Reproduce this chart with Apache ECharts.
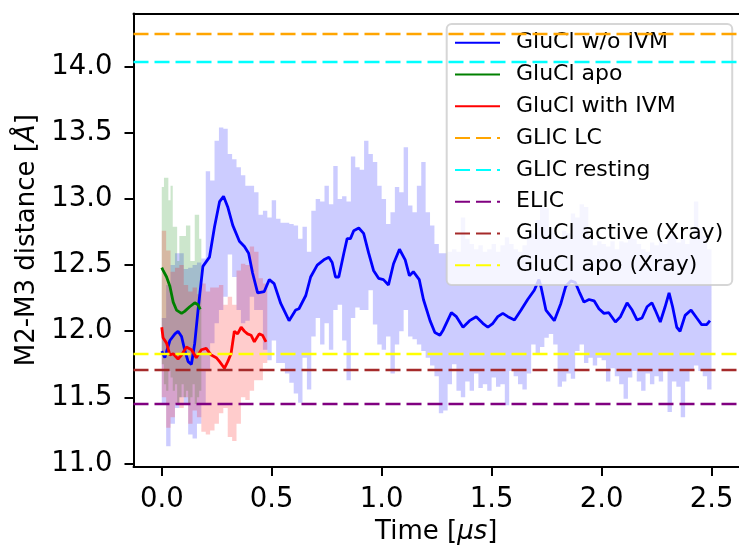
<!DOCTYPE html>
<html>
<head>
<meta charset="utf-8">
<script src="https://cdn.jsdelivr.net/npm/echarts@6.0.0/dist/echarts.min.js"></script>
<style>
  html, body { margin: 0; padding: 0; background: #ffffff; }
  #chart { width: 739px; height: 550px; }
</style>
</head>
<body>
<div id="chart"></div>
<script>
// ---- axis ticks ----
const xTicks = [0.0, 0.5, 1.0, 1.5, 2.0, 2.5];
const yTicks = [11.0, 11.5, 12.0, 12.5, 13.0, 13.5, 14.0];

// ---- GluCl w/o IVM: running mean (time in µs, distance in Å) ----
const blueTime = [
  0.000, 0.014, 0.037, 0.060, 0.074, 0.090, 0.104, 0.120, 0.135, 0.150,
  0.165, 0.187, 0.217, 0.240, 0.263, 0.281, 0.300, 0.323, 0.353, 0.376,
  0.395, 0.413, 0.436, 0.466, 0.489, 0.511, 0.541, 0.579, 0.609, 0.624,
  0.655, 0.677, 0.707, 0.737, 0.760, 0.775, 0.790, 0.805, 0.828, 0.843,
  0.858, 0.873, 0.896, 0.918, 0.941, 0.963, 0.986, 1.008, 1.031, 1.054,
  1.081, 1.107, 1.126, 1.144, 1.171, 1.190, 1.220, 1.242, 1.265, 1.280,
  1.317, 1.340, 1.370, 1.400, 1.430, 1.460, 1.483, 1.506, 1.528, 1.551,
  1.574, 1.604, 1.634, 1.664, 1.694, 1.715, 1.724, 1.747, 1.785, 1.815,
  1.837, 1.860, 1.880, 1.898, 1.920, 1.943, 1.966, 1.988, 2.011, 2.033,
  2.063, 2.086, 2.116, 2.139, 2.161, 2.184, 2.207, 2.229, 2.244, 2.267,
  2.289, 2.307, 2.323, 2.342, 2.357, 2.380, 2.407, 2.433, 2.455, 2.478,
  2.493
];
const blueDist = [
  11.85, 11.80, 11.93, 11.98, 12.00, 11.96, 11.86, 11.77, 11.75, 11.91,
  12.16, 12.49, 12.56, 12.79, 12.98, 13.02, 12.94, 12.80, 12.68, 12.64,
  12.59, 12.44, 12.29, 12.30, 12.39, 12.36, 12.21, 12.08, 12.16, 12.17,
  12.27, 12.41, 12.50, 12.54, 12.56, 12.52, 12.41, 12.41, 12.59, 12.70,
  12.70, 12.76, 12.78, 12.74, 12.59, 12.46, 12.40, 12.39, 12.35, 12.51,
  12.62, 12.54, 12.42, 12.45, 12.39, 12.24, 12.08, 11.99, 11.97, 12.01,
  12.14, 12.11, 12.03, 12.08, 12.11, 12.06, 12.03, 12.06, 12.11, 12.135,
  12.11, 12.085, 12.16, 12.24, 12.31, 12.39, 12.34, 12.16, 12.08, 12.21,
  12.34, 12.38, 12.37, 12.30, 12.22, 12.24, 12.23, 12.17, 12.135, 12.14,
  12.07, 12.11, 12.215, 12.16, 12.085, 12.10, 12.185, 12.215, 12.16, 12.07,
  12.185, 12.29, 12.185, 12.03, 12.00, 12.12, 12.16, 12.10, 12.05, 12.05,
  12.08
];

// GluCl w/o IVM: spread of the raw trace, sampled every 0.02 µs from 0
const blueBandStep = 0.02;
const blueUpper = [
  12.10, 12.35, 12.50, 12.59, 12.59, 12.47, 12.48, 12.50, 12.52, 12.55,
  13.21, 13.14, 13.44, 13.54, 13.53, 13.34, 13.30, 13.24, 13.18, 13.10,
  13.10, 13.05, 12.88, 12.91, 12.86, 12.99, 12.85, 12.82, 12.82, 12.81,
  12.80, 12.70, 12.79, 12.60, 12.91, 13.00, 12.98, 13.10, 12.96, 13.25,
  13.00, 13.02, 12.98, 13.32, 13.24, 13.22, 13.44, 13.34, 13.28, 13.10,
  13.00, 12.81, 12.90, 13.09, 13.05, 13.39, 12.95, 12.90, 13.10, 13.28,
  12.90, 12.80, 12.66, 12.59, 12.59, 12.60, 12.62, 12.60, 12.86, 12.70,
  12.66, 12.62, 12.65, 12.60, 12.62, 12.66, 12.60, 12.65, 12.71, 12.66,
  12.62, 12.60, 12.65, 12.72, 12.74, 12.84, 12.94, 12.93, 12.78, 12.74,
  12.70, 12.76, 12.74, 12.89, 12.86, 12.96, 12.94, 12.70, 12.65, 12.68,
  12.66, 12.64, 12.68, 12.62, 12.68, 12.67, 12.74, 12.70, 12.66, 12.62,
  12.60, 12.67, 12.65, 12.68, 12.66, 12.72, 12.74, 12.67, 12.70, 12.66,
  12.70, 12.98, 12.78, 12.72, 12.62, 12.60
];
const blueLower = [
  11.45, 11.13, 11.30, 11.42, 11.50, 11.45, 11.22, 11.19, 11.30, 11.45,
  11.71, 11.91, 12.06, 12.16, 12.26, 12.58, 12.41, 12.16, 12.06, 12.08,
  12.26, 12.16, 12.16, 11.86, 11.78, 11.93, 11.76, 11.76, 11.68, 11.61,
  11.53, 11.46, 11.80, 11.56, 11.96, 12.10, 11.90, 12.06, 11.86, 12.16,
  12.20, 11.93, 11.63, 12.10, 12.18, 12.16, 12.16, 12.31, 12.05, 11.90,
  11.86, 11.96, 11.68, 11.90, 12.00, 12.16, 11.96, 11.94, 11.90, 11.85,
  11.80, 11.74, 11.66, 11.38, 11.40, 11.60, 11.75, 11.55, 11.50, 11.62,
  11.55, 11.68, 11.57, 11.60, 11.55, 11.65, 11.58, 11.60, 11.44, 11.70,
  11.66, 11.60, 11.56, 11.68, 11.90, 11.82, 11.88, 11.95, 11.98, 11.90,
  11.58, 11.62, 11.68, 11.64, 11.85, 11.90, 11.76, 11.80, 11.74, 11.80,
  11.78, 11.62, 11.72, 11.66, 11.60, 11.49, 11.65, 11.70, 11.62, 11.55,
  11.68, 11.60, 11.66, 11.62, 11.70, 11.39, 11.62, 11.58, 11.35, 11.62,
  11.70, 11.74, 11.70, 11.66, 11.56, 11.66
];

// ---- GluCl apo ----
const greenTime = [0.000, 0.006, 0.022, 0.037, 0.052, 0.067, 0.090, 0.104, 0.127, 0.150, 0.165, 0.175];
const greenDist = [12.48, 12.46, 12.41, 12.34, 12.22, 12.16, 12.135, 12.15, 12.185, 12.215, 12.20, 12.165];
const greenBandStep = 0.01;
const greenUpper = [
  13.09, 13.16, 13.16, 12.99, 13.10, 12.79, 12.79, 12.53, 12.72, 12.72,
  12.72, 12.80, 12.80, 12.53, 12.53, 12.88, 12.88, 12.70, 12.65
];
const greenLower = [
  11.75, 11.60, 11.55, 11.70, 11.65, 11.55, 11.60, 11.45, 11.50, 11.60,
  11.50, 11.55, 11.45, 11.50, 11.60, 11.45, 11.50, 11.55, 11.60
];

// ---- GluCl with IVM ----
const redTime = [
  0.000, 0.006, 0.022, 0.037, 0.052, 0.074, 0.090, 0.112, 0.135, 0.157,
  0.180, 0.202, 0.225, 0.248, 0.263, 0.285, 0.300, 0.315, 0.330, 0.345,
  0.361, 0.376, 0.390, 0.406, 0.421, 0.443, 0.458, 0.474
];
const redDist = [
  12.03, 11.95, 11.91, 11.82, 11.83, 11.79, 11.82, 11.88, 11.86, 11.80,
  11.86, 11.87, 11.82, 11.80, 11.77, 11.72, 11.77, 11.83, 12.00, 11.98,
  12.03, 12.00, 11.98, 11.97, 11.92, 11.98, 11.97, 11.92
];
const redBandStep = 0.02;
const redUpper = [
  12.76, 12.61, 12.45, 12.48, 12.50, 12.35, 12.30, 12.33, 12.28, 12.36,
  12.30, 12.33, 12.33, 12.35, 12.20, 12.26, 12.20, 12.46, 12.51, 12.50,
  12.64, 12.60, 12.40, 12.36, 12.44
];
const redLower = [
  11.50, 11.27, 11.35, 11.45, 11.42, 11.50, 11.30, 11.40, 11.35, 11.24,
  11.22, 11.25, 11.30, 11.38, 11.42, 11.20, 11.17, 11.30, 11.50, 11.48,
  11.55, 11.63, 11.63, 11.76, 11.76
];

// ---- reference structures (horizontal levels, Å) ----
const refNames  = ['GLIC LC', 'GLIC resting', 'ELIC', 'GluCl active (Xray)', 'GluCl apo (Xray)'];
const refLevels = [14.25, 14.04, 11.45, 11.71, 11.83];

// ---- styling ----
const FONT = 'DejaVu Sans';
const refColors = ['#ffa500', '#00ffff', '#800080', '#a52a2a', '#ffff00'];
const DASH = [15, 6];
const X_MIN = -0.1285, X_MAX = 2.625;
const Y_MIN = 10.9736, Y_MAX = 14.402;

function zip(xs, ys) { return xs.map((x, i) => [x, ys[i]]); }

// Filled band between a lower and an upper trace, held constant over each sample step.
function bandSeries(name, step, upper, lower, fill) {
  return {
    type: 'custom',
    name: name,
    silent: true,
    data: [[0, upper[0]]],
    renderItem: function (params, api) {
      const n = upper.length;
      const t = i => i * step;
      const pts = [];
      for (let i = 0; i < n; i++) {
        pts.push(api.coord([t(i), upper[i]]));
        if (i < n - 1) pts.push(api.coord([t(i + 1), upper[i]]));
      }
      for (let i = n - 1; i >= 0; i--) {
        if (i < n - 1) pts.push(api.coord([t(i + 1), lower[i]]));
        pts.push(api.coord([t(i), lower[i]]));
      }
      return { type: 'polygon', shape: { points: pts }, style: { fill: fill, stroke: null } };
    }
  };
}

function lineSeries(name, xs, ys, color) {
  return {
    type: 'line', name: name, data: zip(xs, ys),
    symbol: 'none', showSymbol: false, silent: true,
    lineStyle: { color: color, width: 2.8 },
    itemStyle: { color: color }
  };
}

function levelSeries(name, level, color) {
  const ls = { color: color, width: 2.3, type: DASH };
  return {
    type: 'line', name: name, data: [],
    symbol: 'none', silent: true,
    lineStyle: ls, itemStyle: { color: color },
    markLine: {
      silent: true, symbol: 'none', animation: false,
      label: { show: false },
      lineStyle: ls,
      data: [{ yAxis: level }]
    }
  };
}

const axisLineStyle = { color: '#000', width: 2 };

const series = [
  bandSeries('GluCl w/o IVM spread', blueBandStep, blueUpper, blueLower, 'rgba(0,0,255,0.2)'),
  lineSeries('GluCl w/o IVM', blueTime, blueDist, '#0000ff'),
  bandSeries('GluCl apo spread', greenBandStep, greenUpper, greenLower, 'rgba(0,128,0,0.2)'),
  lineSeries('GluCl apo', greenTime, greenDist, '#008000'),
  bandSeries('GluCl with IVM spread', redBandStep, redUpper, redLower, 'rgba(255,0,0,0.2)'),
  lineSeries('GluCl with IVM', redTime, redDist, '#ff0000')
];
refNames.forEach((n, i) => series.push(levelSeries(n, refLevels[i], refColors[i])));

const option = {
  animation: false,
  backgroundColor: '#ffffff',
  grid: { left: 133.5, right: -3, top: 13.5, bottom: 82.8, containLabel: false },
  legend: {
    data: ['GluCl w/o IVM', 'GluCl apo', 'GluCl with IVM'].concat(refNames),
    orient: 'vertical',
    left: 446.7, top: 24,
    padding: [7.7, 9, 8.7, 7.3],
    itemWidth: 45, itemHeight: 14, itemGap: 9.8,
    itemStyle: { opacity: 0 },
    backgroundColor: 'rgba(255,255,255,0.8)',
    borderColor: 'rgba(204,204,204,0.8)', borderWidth: 2, borderRadius: 5,
    selectedMode: false,
    textStyle: { color: '#000', fontSize: 22, fontFamily: FONT, lineHeight: 22, padding: [0, 0, 0, 11] }
  },
  xAxis: [{
    type: 'value', position: 'bottom', min: X_MIN, max: X_MAX,
    axisLine: { show: true, onZero: false, lineStyle: axisLineStyle },
    axisTick: { show: true, length: 9, lineStyle: axisLineStyle, customValues: xTicks },
    axisLabel: {
      customValues: xTicks, formatter: v => v.toFixed(1), margin: 19,
      color: '#000', fontSize: 27.5, fontFamily: FONT
    },
    splitLine: { show: false },
    name: 'Time [{i|μs}]', nameLocation: 'middle', nameGap: 52,
    nameTextStyle: {
      color: '#000', fontSize: 26, fontFamily: FONT,
      rich: { i: { fontStyle: 'italic', fontSize: 26, fontFamily: FONT, color: '#000' } }
    }
  }, {
    type: 'value', position: 'top', min: X_MIN, max: X_MAX,
    axisLine: { show: true, onZero: false, lineStyle: axisLineStyle },
    axisTick: { show: false }, axisLabel: { show: false }, splitLine: { show: false }
  }],
  yAxis: {
    type: 'value', min: Y_MIN, max: Y_MAX,
    axisLine: { show: true, onZero: false, lineStyle: axisLineStyle },
    axisTick: { show: true, length: 9, lineStyle: axisLineStyle, customValues: yTicks },
    axisLabel: {
      customValues: yTicks, formatter: v => v.toFixed(1), margin: 21,
      color: '#000', fontSize: 27.5, fontFamily: FONT
    },
    splitLine: { show: false },
    name: 'M2-M3 distance [{i|Å}]', nameLocation: 'middle', nameGap: 91,
    nameTextStyle: {
      color: '#000', fontSize: 26, fontFamily: FONT,
      rich: { i: { fontStyle: 'italic', fontSize: 26, fontFamily: FONT, color: '#000' } }
    }
  },
  series: series
};

const chart = echarts.init(document.getElementById('chart'), null, { renderer: 'canvas' });
chart.setOption(option);
</script>
</body>
</html>
